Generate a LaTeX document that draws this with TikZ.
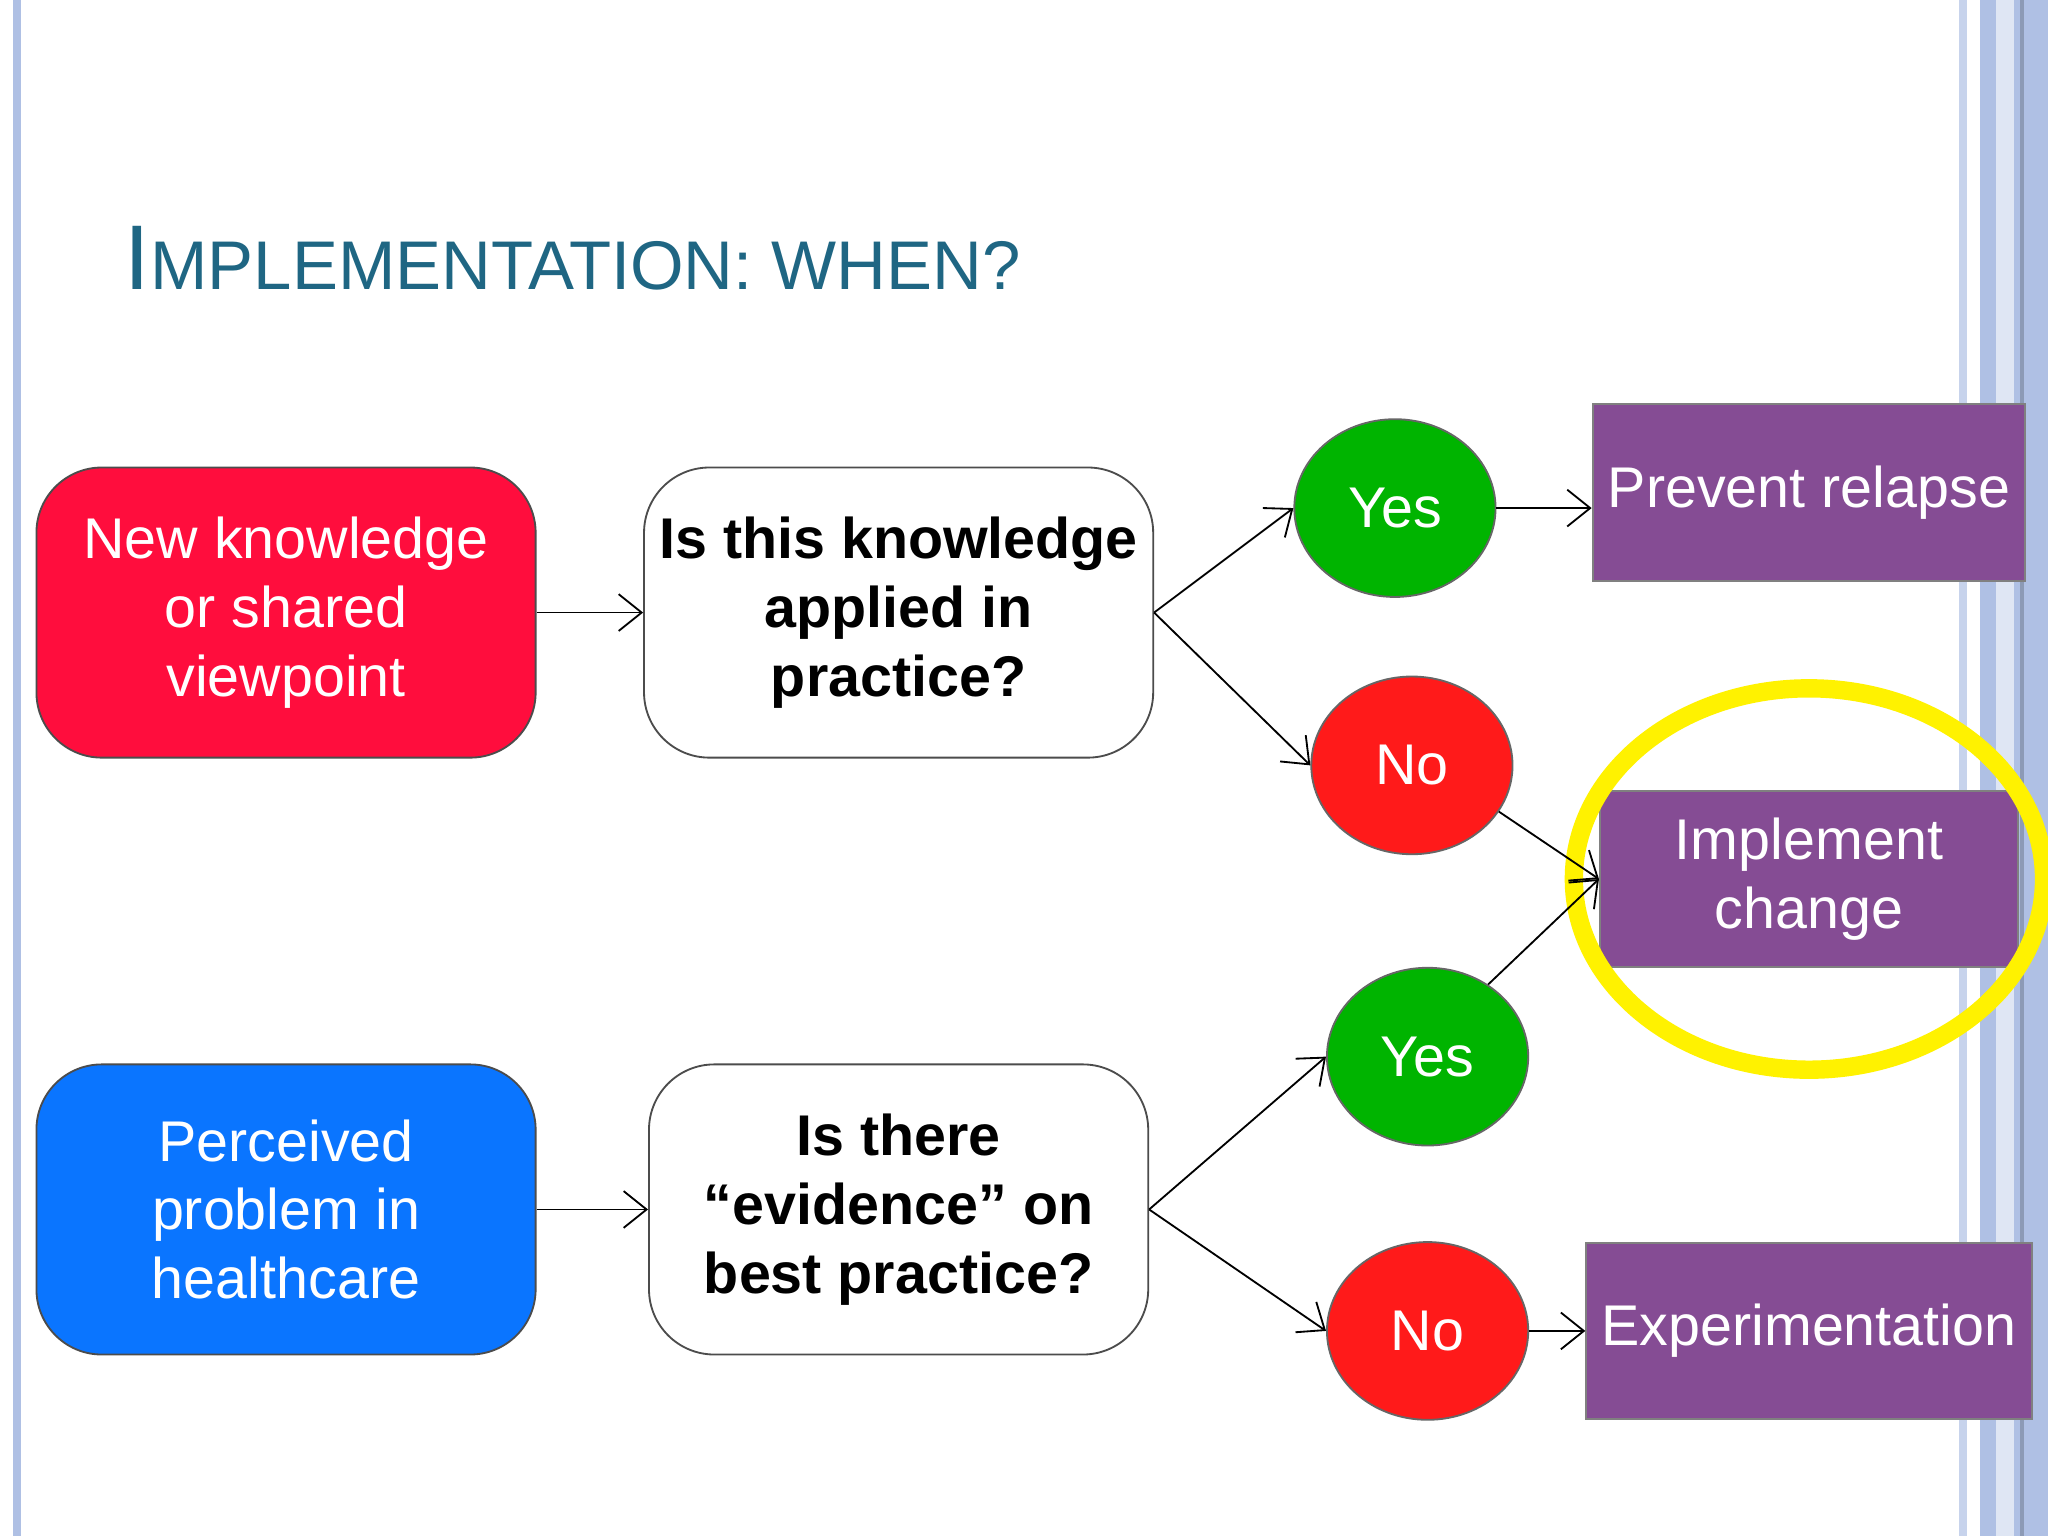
\documentclass[tikz,border=0pt]{standalone}
\usepackage{fontspec}
\setmainfont{Liberation Sans}
\usetikzlibrary{arrows.meta,shapes.geometric}
\definecolor{boxred}{HTML}{FF0D3D}
\definecolor{boxblue}{HTML}{0A75FF}
\definecolor{cgreen}{HTML}{00B400}
\definecolor{cred}{HTML}{FF1A1A}
\definecolor{purp}{HTML}{854C94}
\definecolor{title}{HTML}{1F6683}
\definecolor{stripe}{HTML}{AFC0E4}
\begin{document}
\begin{tikzpicture}[x=0.01cm,y=-0.01cm,
  txt/.style={font=\fontsize{12.5}{15}\selectfont,align=center},
  rbox/.style={txt,rounded corners=0.5cm,draw=black!70,minimum width=3.82cm,minimum height=2.22cm,text=white},
  qbox/.style={rbox,fill=white,text=black,font=\fontsize{12.5}{15}\selectfont\bfseries},
  circ/.style={ellipse,draw=black!60,minimum width=1.54cm,minimum height=1.36cm,inner sep=0pt,text=white,font=\fontsize{12.5}{15}\selectfont},
  pbox/.style={txt,draw=black!50,fill=purp,text=white,minimum width=3.2cm,minimum height=1.35cm},
  arr/.style={-{Straight Barb[length=5pt,width=8pt]},thin}]
\useasboundingbox (0,0) rectangle (1568,1176);
\fill[white] (0,0) rectangle (1568,1176);
% borders
\fill[stripe] (10,0) rectangle (16,1176);
\fill[stripe!70] (1500,0) rectangle (1506,1176);
\fill[stripe] (1516,0) rectangle (1568,1176);
\fill[white!60!stripe] (1528,0) rectangle (1542,1176);
\draw[stripe!80!black,line width=1pt] (1548,0) -- (1548,1176);
% title
\node[anchor=base west,text=title,inner sep=0] (t) at (95,222)
 {{\fontsize{20}{24}\selectfont I}{\fontsize{15}{18}\selectfont MPLEMENTATION: WHEN?}};
% boxes
\node[rbox,fill=boxred] (nk) at (219,469) {New knowledge\\or shared\\viewpoint};
\node[qbox] (q1) at (688,469) {Is this knowledge\\applied in\\practice?};
\node[rbox,fill=boxblue] (pp) at (219,926) {Perceived\\problem in\\healthcare};
\node[qbox] (q2) at (688,926) {Is there\\“evidence” on\\best practice?};
\node[circ,fill=cgreen] (y1) at (1068,389) {Yes};
\node[circ,fill=cred] (n1) at (1081,586) {No};
\node[circ,fill=cgreen] (y2) at (1093,809) {Yes};
\node[circ,fill=cred] (n2) at (1093,1019) {No};
\node[pbox] (pr) at (1385,377) {Prevent relapse};
\node[pbox] (ic) at (1385,673) {Implement\\change};
\node[pbox] (ex) at (1385,1019) {Experimentation};
\draw[yellow,line width=4pt] (1385,673) ellipse [x radius=180, y radius=146];
% arrows
\draw[arr] (nk) -- (q1);
\draw[arr] (pp) -- (q2);
\draw[arr] (q1.east) -- (y1.west);
\draw[arr] (q1.east) -- (n1.west);
\draw[arr] (q2.east) -- (y2.west);
\draw[arr] (q2.east) -- (n2.west);
\draw[arr] (y1) -- (y1 -| pr.west);
\draw[arr] (n2) -- (ex);
\draw[arr] (n1.-28) -- (ic.west);
\draw[arr] (y2.50) -- (ic.west);
\end{tikzpicture}
\end{document}
